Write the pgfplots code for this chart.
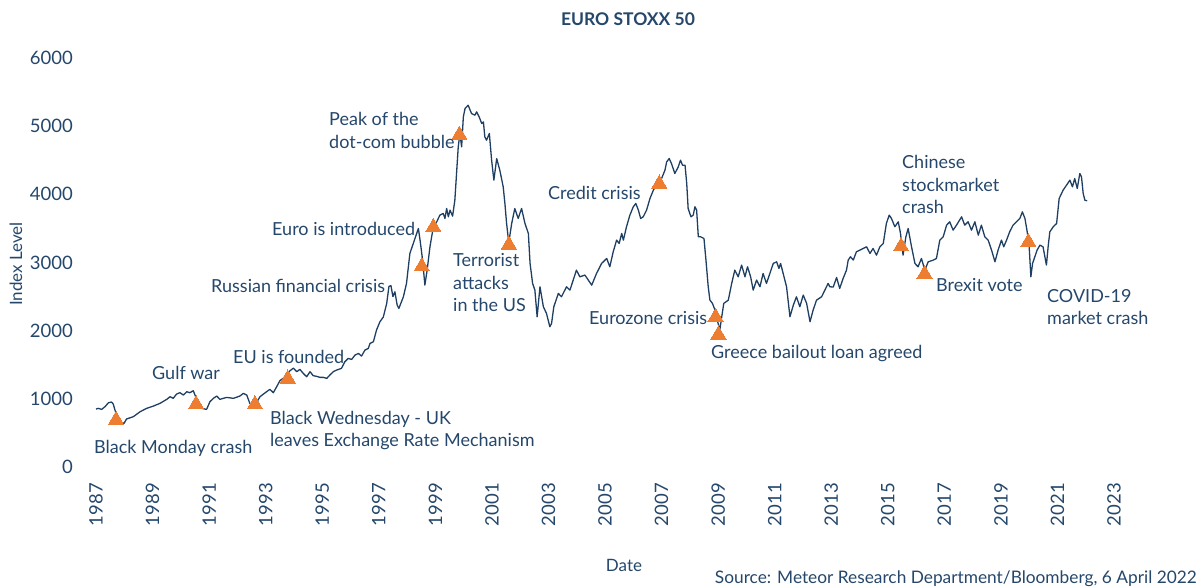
\documentclass[border=0pt]{standalone}
\usepackage{fontspec}
\setmainfont{Lato}
\usepackage{pgfplots}
\pgfplotsset{compat=1.18}
\definecolor{txt}{HTML}{24476B}
\definecolor{ln}{HTML}{1F3F62}
\definecolor{org}{HTML}{ED7D31}
\pgfplotstableread{
year value
1987.00 850
1987.08 860
1987.20 845
1987.32 885
1987.44 943
1987.55 953
1987.61 924
1987.67 836
1987.79 689
1987.91 650
1987.99 640
1988.08 704
1988.32 738
1988.56 811
1988.79 860
1989.03 894
1989.26 933
1989.50 992
1989.62 1031
1989.73 1007
1989.85 1070
1989.97 1090
1990.09 1056
1990.21 1104
1990.32 1090
1990.44 1119
1990.50 1056
1990.62 933
1990.74 860
1990.91 845
1991.03 958
1991.15 1007
1991.27 1041
1991.38 992
1991.62 1021
1991.86 1007
1992.09 1041
1992.21 1080
1992.33 1056
1992.44 933
1992.62 909
1992.80 1031
1993.03 1104
1993.15 1139
1993.27 1090
1993.39 1178
1993.51 1270
1993.62 1300
1993.74 1349
1993.86 1412
1993.98 1450
1994.10 1398
1994.21 1432
1994.33 1373
1994.45 1324
1994.57 1398
1994.68 1340
1994.80 1330
1994.92 1315
1995.04 1315
1995.16 1300
1995.27 1349
1995.39 1398
1995.51 1422
1995.68 1447
1995.80 1544
1995.92 1593
1996.04 1578
1996.16 1642
1996.28 1666
1996.39 1627
1996.51 1715
1996.63 1740
1996.69 1813
1996.81 1838
1996.92 2009
1997.04 2130
1997.16 2200
1997.28 2400
1997.36 2650
1997.43 2660
1997.50 2500
1997.57 2570
1997.65 2375
1997.71 2326
1997.87 2497
1997.98 2693
1998.10 3133
1998.22 3279
1998.34 3426
1998.40 3499
1998.46 3328
1998.55 3035
1998.63 2668
1998.71 2888
1998.81 3230
1998.93 3524
1999.05 3597
1999.16 3695
1999.28 3719
1999.34 3646
1999.40 3792
1999.46 3670
1999.52 3768
1999.61 3680
1999.69 3914
1999.75 4305
1999.81 4696
1999.87 4892
1999.93 4696
1999.99 5136
2000.05 5258
2000.16 5307
2000.28 5185
2000.40 5161
2000.46 5210
2000.55 5136
2000.64 5039
2000.70 5063
2000.75 4843
2000.81 4794
2000.91 4892
2000.99 4501
2001.07 4208
2001.17 4525
2001.28 4354
2001.40 4110
2001.46 3866
2001.52 3572
2001.58 3352
2001.61 3328
2001.70 3572
2001.81 3792
2001.93 3646
2002.05 3792
2002.17 3572
2002.29 3426
2002.35 2986
2002.44 2693
2002.52 2595
2002.60 2204
2002.70 2644
2002.82 2351
2002.93 2253
2003.05 2057
2003.11 2106
2003.19 2351
2003.35 2546
2003.46 2497
2003.64 2644
2003.76 2595
2003.99 2888
2004.11 2790
2004.29 2815
2004.37 2766
2004.53 2668
2004.70 2839
2004.88 2986
2005.06 3059
2005.17 2937
2005.29 3157
2005.41 3328
2005.50 3279
2005.59 3426
2005.65 3328
2005.76 3524
2005.88 3695
2006.00 3817
2006.09 3866
2006.18 3768
2006.26 3646
2006.35 3670
2006.47 3768
2006.59 3939
2006.71 4061
2006.82 4134
2007.00 4232
2007.12 4354
2007.18 4476
2007.27 4525
2007.35 4452
2007.47 4305
2007.59 4403
2007.67 4501
2007.74 4428
2007.83 4428
2007.89 4159
2007.94 3792
2008.04 3670
2008.12 3695
2008.18 3817
2008.24 3768
2008.30 3377
2008.38 3377
2008.50 3352
2008.57 3035
2008.65 2644
2008.71 2448
2008.80 2400
2008.89 2302
2008.97 2155
2009.06 2009
2009.12 2180
2009.20 2400
2009.36 2448
2009.48 2693
2009.59 2888
2009.71 2790
2009.83 2962
2009.95 2790
2010.04 2937
2010.15 2790
2010.24 2595
2010.36 2742
2010.48 2644
2010.59 2839
2010.71 2693
2010.83 2839
2010.95 2986
2011.07 3010
2011.15 2913
2011.21 2986
2011.30 2839
2011.42 2644
2011.54 2204
2011.66 2375
2011.77 2497
2011.89 2351
2012.01 2522
2012.13 2400
2012.25 2131
2012.36 2302
2012.48 2448
2012.66 2497
2012.89 2693
2012.95 2644
2013.07 2640
2013.19 2780
2013.30 2619
2013.42 2766
2013.54 2888
2013.60 3035
2013.68 3084
2013.78 3035
2013.89 3157
2014.01 3181
2014.13 3206
2014.25 3230
2014.37 3133
2014.48 3206
2014.60 3108
2014.72 3230
2014.84 3279
2014.95 3572
2015.05 3695
2015.13 3646
2015.25 3524
2015.37 3597
2015.45 3426
2015.54 3108
2015.64 3377
2015.72 3499
2015.84 3230
2015.96 2986
2016.07 2937
2016.19 3059
2016.31 2888
2016.43 3010
2016.61 3035
2016.72 3059
2016.84 3328
2016.96 3377
2017.08 3548
2017.19 3597
2017.31 3475
2017.43 3548
2017.61 3670
2017.72 3548
2017.84 3597
2017.96 3475
2018.08 3597
2018.20 3401
2018.31 3548
2018.43 3377
2018.55 3328
2018.67 3181
2018.79 3010
2018.90 3181
2019.02 3328
2019.10 3230
2019.20 3328
2019.31 3450
2019.43 3548
2019.55 3597
2019.67 3646
2019.76 3743
2019.85 3646
2019.93 3450
2020.00 3230
2020.06 2790
2020.12 2986
2020.20 3084
2020.28 3181
2020.38 3255
2020.49 3230
2020.61 2962
2020.67 3230
2020.73 3450
2020.85 3524
2020.97 3572
2021.06 3939
2021.20 4061
2021.32 4134
2021.44 4208
2021.53 4110
2021.61 4232
2021.70 4085
2021.79 4305
2021.85 4256
2021.91 4012
2021.97 3914
2022.05 3905
}\indexdata
\pgfplotstableread{
year value
1987.71 690
1990.54 920
1992.62 920
1993.78 1296
1998.52 2943
1998.93 3520
1999.85 4873
2001.60 3261
2006.92 4155
2008.91 2200
2009.01 1941
2015.47 3237
2016.30 2831
2019.97 3300
}\events
\begin{document}
\begin{tikzpicture}[x=1pt,y=1pt]
\path[use as bounding box] (0,0) rectangle (1203,588);
\begin{axis}[
  at={(96pt,121pt)}, anchor=south west,
  scale only axis, width=1018pt, height=409pt,
  xmin=1987, xmax=2023, ymin=0, ymax=6000,
  xtick={1987,1989,...,2023}, ytick={0,1000,...,6000},
  axis x line*=bottom, axis y line*=left,
  axis line style={draw=none}, major tick length=0pt,
  tick label style={font=\fontsize{18.5}{22}\selectfont, text=txt, inner sep=0pt},
  xticklabel style={rotate=90, anchor=east},
  xticklabel shift=16pt, yticklabel shift=23pt,
  /pgf/number format/assume math mode=true,
  /pgf/number format/1000 sep={},
  clip=false,
]
\addplot[ln, line width=1.3pt, line join=round, mark=none] table[x=year,y=value] {\indexdata};
\addplot[only marks, mark=triangle*, mark size=8.8pt, mark options={fill=org, draw=org, line width=0pt}] table[x=year,y=value] {\events};
\end{axis}
\begin{scope}[every node/.style={text=txt, inner sep=0pt, anchor=base west, font=\fontsize{18}{22}\selectfont}]
\node at (94,134) {Black Monday crash};
\node at (152,208.5) {Gulf war};
\node at (270,163) {Black Wednesday - UK};
\node at (270,141.3) {leaves Exchange Rate Mechanism};
\node at (233,224.7) {EU is founded};
\node at (211,295.7) {Russian financial crisis};
\node at (272,352.3) {Euro is introduced};
\node at (329,462.3) {Peak of the};
\node at (329,439.7) {dot-com bubble};
\node at (453,321.3) {Terrorist};
\node at (453,298.7) {attacks};
\node at (453,276.3) {in the US};
\node at (548,388) {Credit crisis};
\node at (589,263) {Eurozone crisis};
\node at (711,229.7) {Greece bailout loan agreed};
\node at (902,419) {Chinese};
\node at (902,396.3) {stockmarket};
\node at (902,374.7) {crash};
\node at (936,296.3) {Brexit vote};
\node at (1047,285.7) {COVID-19};
\node at (1047,263.7) {market crash};
\node[anchor=base, font=\bfseries\fontsize{17.5}{20}\selectfont] at (628,562) {EURO STOXX 50};
\node[anchor=center, rotate=90, font=\fontsize{17}{20}\selectfont] at (16,324) {Index Level};
\node[anchor=base, font=\fontsize{17}{20}\selectfont] at (624,16) {Date};
\node[anchor=base east, font=\fontsize{17.3}{20}\selectfont] at (1197,4) {Source: Meteor Research Department/Bloomberg, 6 April 2022};
\end{scope}
\end{tikzpicture}
\end{document}
